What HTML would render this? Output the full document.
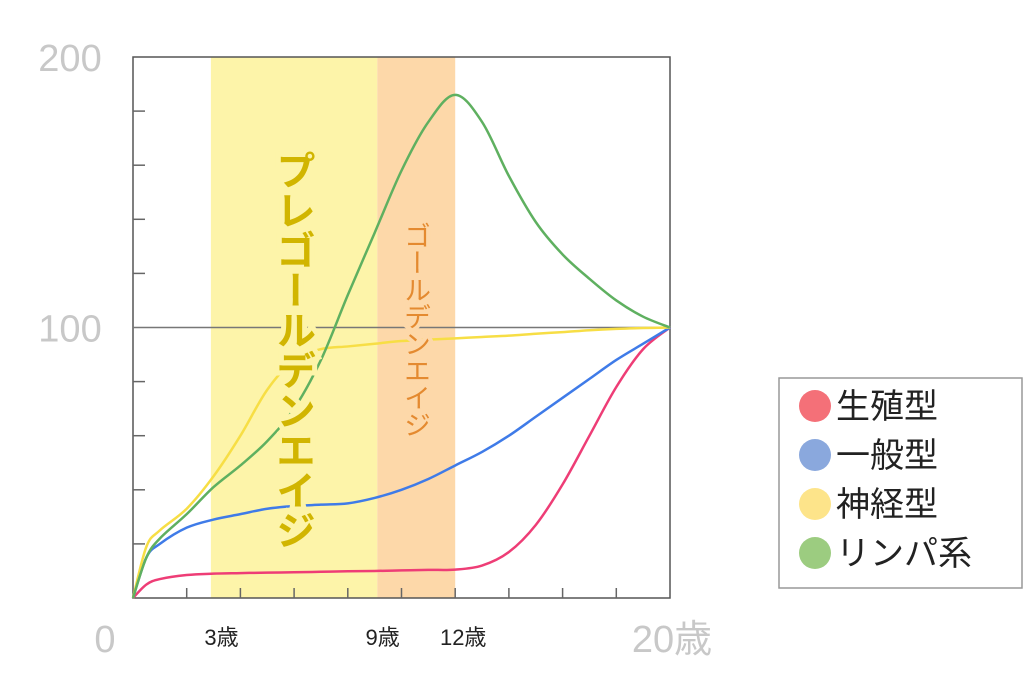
<!DOCTYPE html>
<html><head><meta charset="utf-8">
<style>
html,body{margin:0;padding:0;background:#fff;}
body{width:1024px;height:692px;overflow:hidden;font-family:"Liberation Sans","Noto Sans CJK JP",sans-serif;}
svg text{font-family:"Liberation Sans","Noto Sans CJK JP",sans-serif;}
</style></head>
<body>
<svg id="chart" width="1024" height="692" viewBox="0 0 1024 692" xmlns="http://www.w3.org/2000/svg">
<g id="bands"></g>
<g id="grid"></g>
<g id="series"></g>
<g id="labels"></g>
<g id="legend"></g>
</svg>
<script>
const ages = [0,0.5,1,2,3,4,5,6,7,8,9,10,11,12,13,14,15,16,17,18,19,20];
const lymphValues = [0,15,22,31,41,49,58,70,88,112,135,158,176,186,176,156,139,127,118,110,104,100];
const neuralValues = [0,19,25,33,45,60,77,88,92,93,94,95,95.5,96,96.5,97,97.7,98.3,99,99.5,99.8,100];
const generalValues = [0,15,20,26,29,31,33,34,34.5,35,37,40,44,49,54,60,67,74,81,88,94,100];
const reproValues = [0,5,7,8.5,9,9.2,9.4,9.5,9.7,9.9,10,10.2,10.4,10.5,12,17,27,42,60,78,92,100];
const yTickValues = [0,20,40,60,80,100,120,140,160,180,200];
const xTickValues = [0,2,4,6,8,10,12,14,16,18,20];
const yLabelValues = [200,100];
const ageLabels = ["3歳","9歳","12歳"];
const ageLabelAges = [3,9,12];
const bandRanges = [[2.9,9.1],[9.1,12]];
const legendNames = ["生殖型","一般型","神経型","リンパ系"];
const legendColors = ["#f47078","#8aa8dd","#fde48a","#9ccc80"];

const X0=133,X1=670,Y0=598,Y1=57;
const xS=a=>X0+(X1-X0)*a/20;
const yS=v=>Y0+(Y1-Y0)*v/200;
const NS="http://www.w3.org/2000/svg";
function mk(tag,attrs,parent){const e=document.createElementNS(NS,tag);for(const k in attrs)e.setAttribute(k,attrs[k]);parent.appendChild(e);return e;}

const bands=document.getElementById('bands');
const bandColors=["#fdf4a9","#fdd8a9"];
bandRanges.forEach((r,i)=>{
  const b=mk('rect',{x:xS(r[0]),y:Y1,width:xS(r[1])-xS(r[0]),height:Y0-Y1,fill:bandColors[i]},bands);
  
  
});

const grid=document.getElementById('grid');
const frame=mk('rect',{x:X0,y:Y1,width:X1-X0,height:Y0-Y1,fill:'none',stroke:'#555','stroke-width':1.5},grid);


const ref=mk('line',{x1:X0,x2:X1,y1:yS(100),y2:yS(100),stroke:'#777','stroke-width':1.5},grid);


yTickValues.forEach(v=>{
  if(v===0||v===200||v===100)return;
  const t=mk('line',{x1:X0,x2:X0+12,y1:yS(v),y2:yS(v),stroke:'#666','stroke-width':1.5},grid);
  
  
});
xTickValues.forEach(a=>{
  if(a===0||a===20)return;
  const t=mk('line',{x1:xS(a),x2:xS(a),y1:Y0,y2:Y0-10,stroke:'#666','stroke-width':1.5},grid);
  
  
});

function smooth(xs,ys){
  const p=xs.map((a,i)=>[xS(a),yS(ys[i])]);
  let d='M'+p[0][0]+','+p[0][1];
  for(let i=0;i<p.length-1;i++){
    const p0=p[Math.max(0,i-1)],p1=p[i],p2=p[i+1],p3=p[Math.min(p.length-1,i+2)];
    const c1=[p1[0]+(p2[0]-p0[0])/6,p1[1]+(p2[1]-p0[1])/6];
    const c2=[p2[0]-(p3[0]-p1[0])/6,p2[1]-(p3[1]-p1[1])/6];
    d+=` C${c1[0]},${c1[1]} ${c2[0]},${c2[1]} ${p2[0]},${p2[1]}`;
  }
  return d;
}
const series=document.getElementById('series');
[[reproValues,'#ee3d76','reproductive-line'],[generalValues,'#3f7be8','general-line'],[neuralValues,'#f7de45','neural-line'],[lymphValues,'#5fb060','lymphoid-line']].forEach(s=>{
  const p=mk('path',{d:smooth(ages,s[0]),fill:'none',stroke:s[1],'stroke-width':2.5},series);
  
  
});

const labels=document.getElementById('labels');
const pre=mk('text',{x:292,y:150,fill:'#d1b500','font-size':40,'font-weight':'bold','writing-mode':'tb','letter-spacing':'0',stroke:'#fdf4a9','stroke-width':10,'paint-order':'stroke'},labels);
pre.textContent='プレゴールデンエイジ';


const gold=mk('text',{x:415,y:222,fill:'#e48a30','font-size':27,'writing-mode':'tb',stroke:'#fdd8a9','stroke-width':8,'paint-order':'stroke'},labels);
gold.textContent='ゴールデンエイジ';


yLabelValues.forEach(v=>{
  const t=mk('text',{x:70,y:yS(v)+14,fill:'#c8c8c8','font-size':38,'text-anchor':'middle'},labels);
  t.textContent=String(v);
  
  
});
const z=mk('text',{x:105,y:652,fill:'#c8c8c8','font-size':38,'text-anchor':'middle'},labels);
z.textContent='0';


const t20=mk('text',{x:672,y:652,fill:'#c8c8c8','font-size':38,'text-anchor':'middle'},labels);
t20.textContent='20歳';


ageLabels.forEach((s,i)=>{
  const t=mk('text',{x:xS(ageLabelAges[i])+8,y:645,fill:'#222','font-size':22,'text-anchor':'middle'},labels);
  t.textContent=s;
  
  
});

const legend=document.getElementById('legend');
const lb=mk('rect',{x:779,y:378,width:243,height:210,fill:'#fff',stroke:'#999','stroke-width':1.5},legend);


legendNames.forEach((n,i)=>{
  const cy=406+i*49;
  const c=mk('circle',{cx:815,cy:cy,r:16,fill:legendColors[i]},legend);
  
  
  const t=mk('text',{x:836,y:cy+12,fill:'#222','font-size':34},legend);
  t.textContent=n;
  
  
});
</script>
</body></html>
